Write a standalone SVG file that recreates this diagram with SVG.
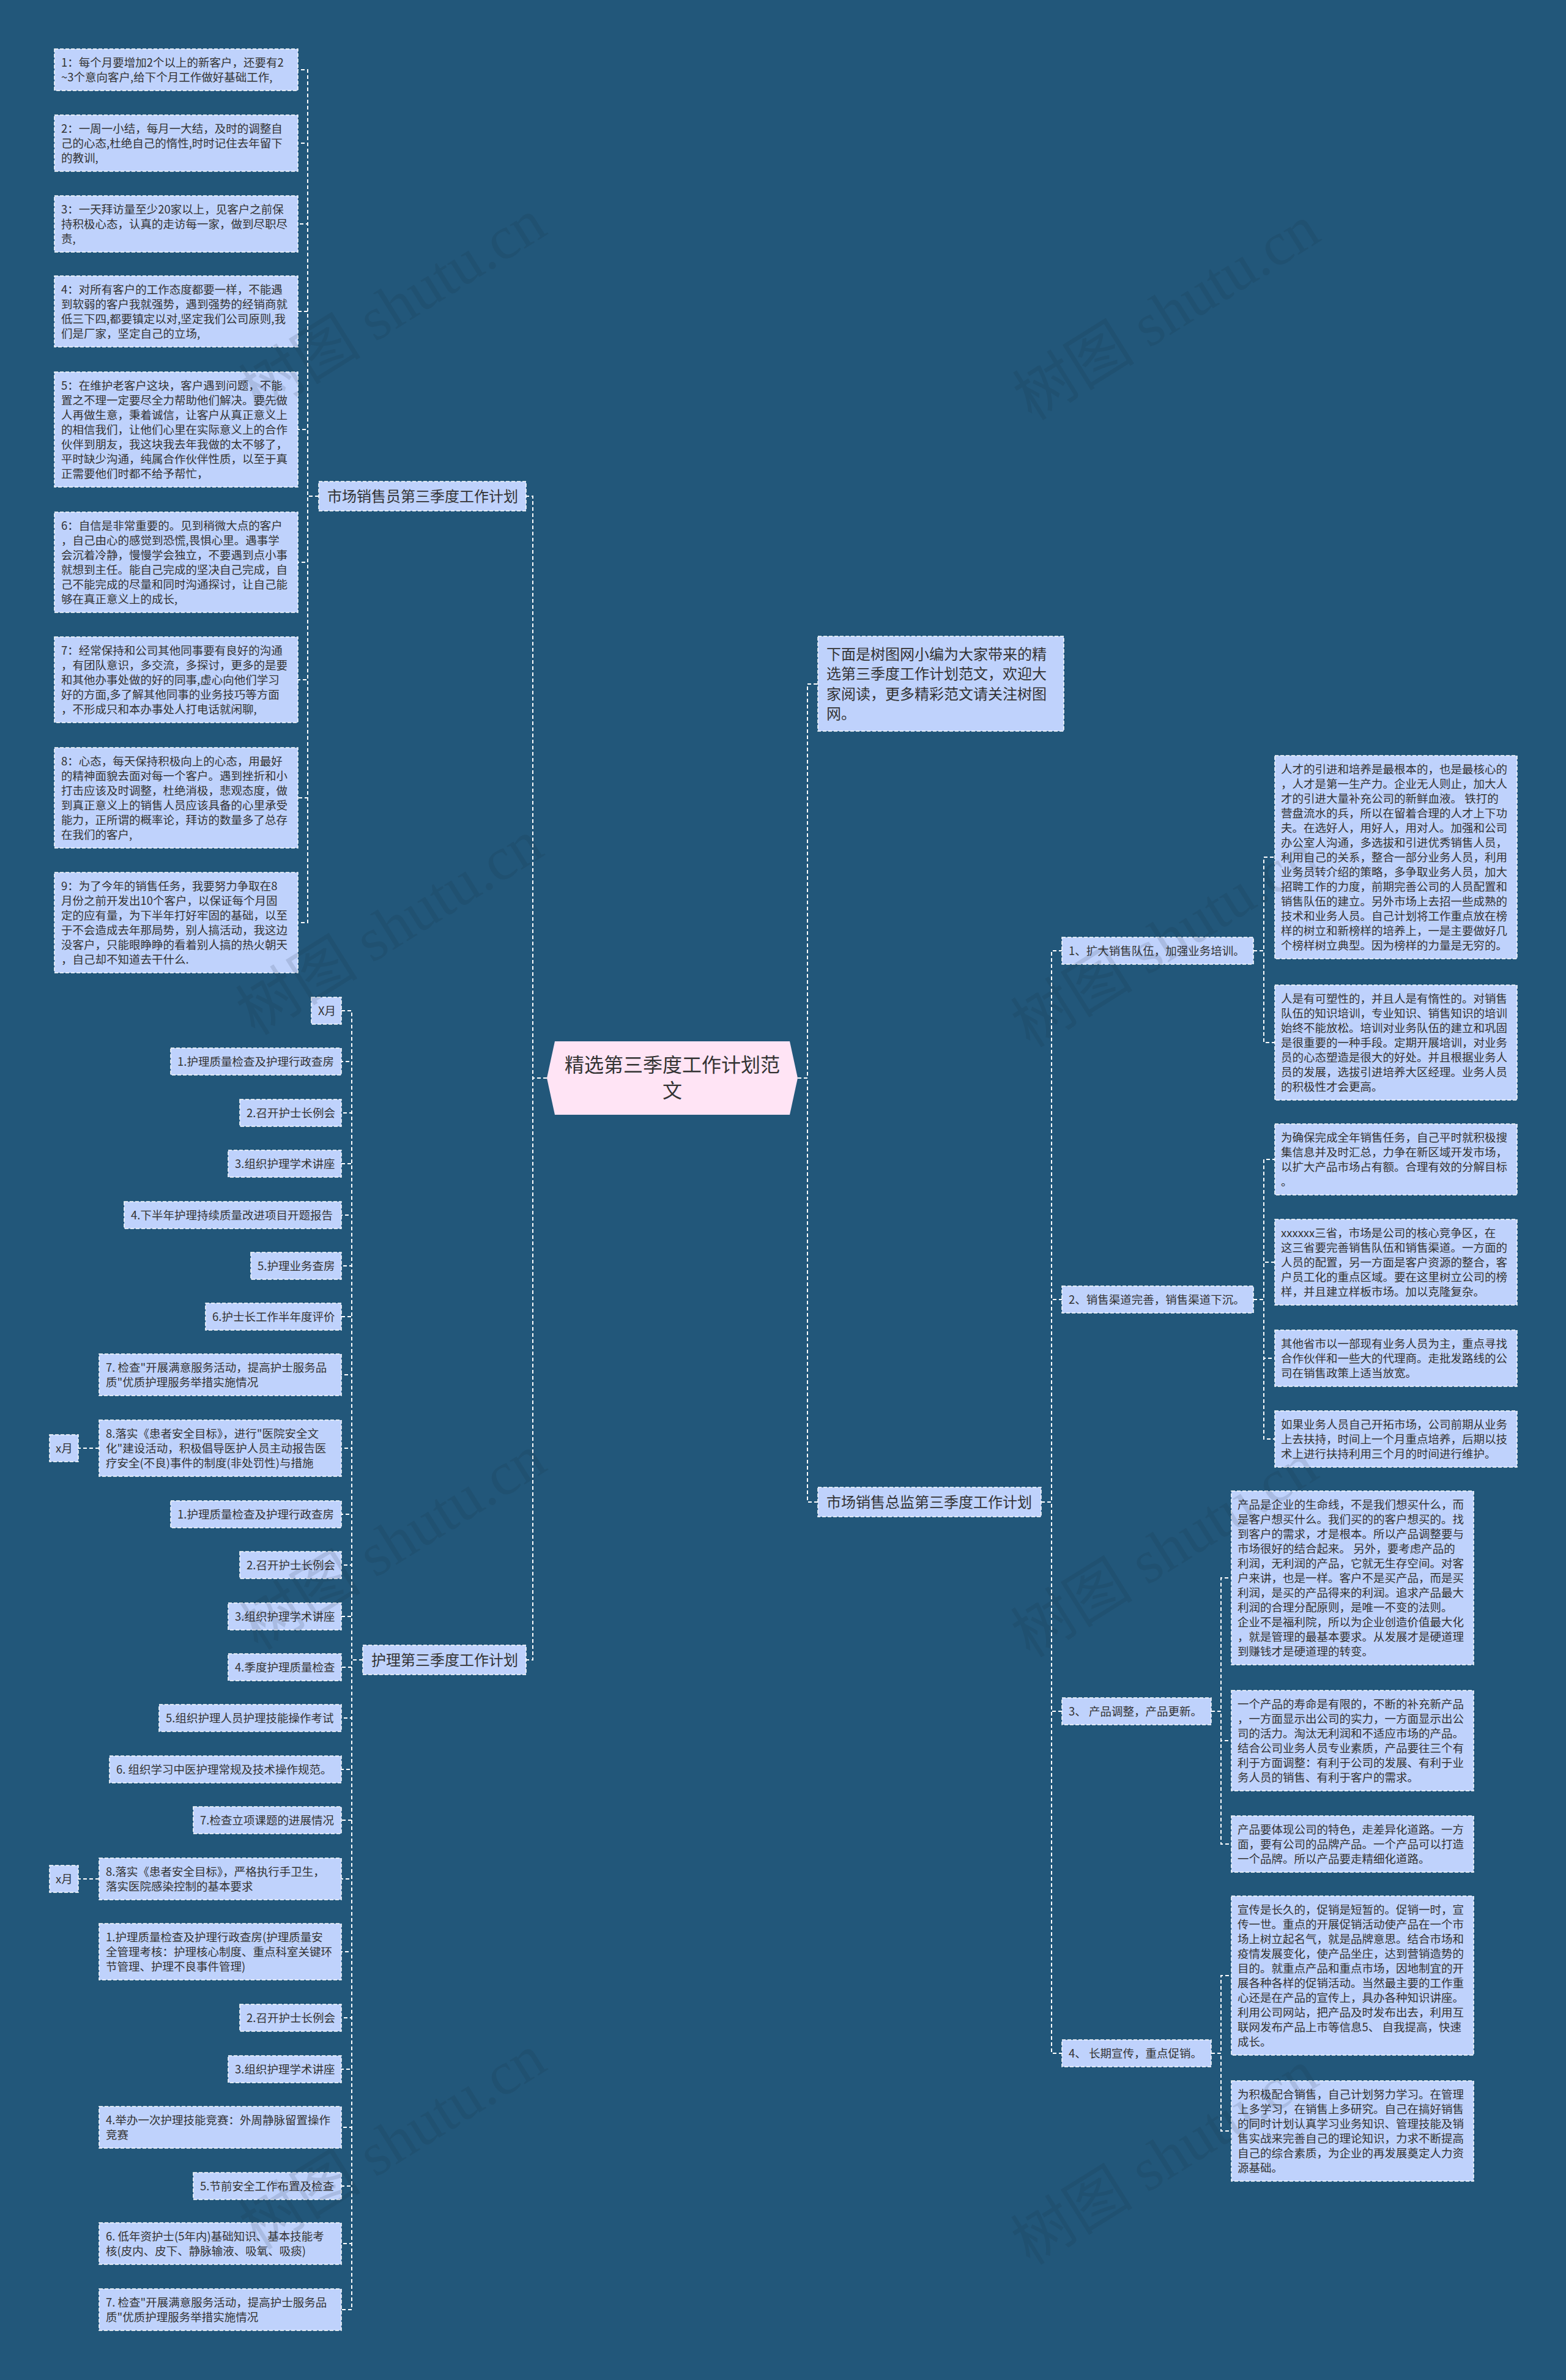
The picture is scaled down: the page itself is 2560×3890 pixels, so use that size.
<svg xmlns="http://www.w3.org/2000/svg" width="2560" height="3890" viewBox="0 0 2560 3890">
<style>
.t{font-family:"Noto Sans CJK SC","Noto Sans",sans-serif;font-size:18.5px;fill:#333}
.tb{font-family:"Noto Sans CJK SC","Noto Sans",sans-serif;font-size:24px;fill:#333}
.tr{font-family:"Noto Sans CJK SC","Noto Sans",sans-serif;font-size:32px;fill:#333}
.box{fill:#BFD2FC;stroke:#fff;stroke-width:1.5;stroke-dasharray:6 3}
.link{fill:none;stroke:#fff;stroke-width:2;stroke-dasharray:6 4}
.wm{font-family:"Liberation Serif","Noto Sans CJK SC",serif;font-size:100px;fill:#1a2a3a;opacity:0.13}
</style>
<rect width="2560" height="3890" fill="#22577A"/>
<g id="connectors">
<path class="link" d="M1304 1762H1320V1118H1337"/>
<path class="link" d="M1304 1762H1320V2455H1337"/>
<path class="link" d="M894 1762H871V811H860"/>
<path class="link" d="M894 1762H871V2713H860"/>
<path class="link" d="M521 811H503V114H487"/>
<path class="link" d="M521 811H503V234H487"/>
<path class="link" d="M521 811H503V366H487"/>
<path class="link" d="M521 811H503V509H487"/>
<path class="link" d="M521 811H503V702H487"/>
<path class="link" d="M521 811H503V919H487"/>
<path class="link" d="M521 811H503V1111H487"/>
<path class="link" d="M521 811H503V1304H487"/>
<path class="link" d="M521 811H503V1508H487"/>
<path class="link" d="M593 2713H575V1652H558"/>
<path class="link" d="M593 2713H575V1735H558"/>
<path class="link" d="M593 2713H575V1819H558"/>
<path class="link" d="M593 2713H575V1902H558"/>
<path class="link" d="M593 2713H575V1986H558"/>
<path class="link" d="M593 2713H575V2069H558"/>
<path class="link" d="M593 2713H575V2152H558"/>
<path class="link" d="M593 2713H575V2247H558"/>
<path class="link" d="M593 2713H575V2367H558"/>
<path class="link" d="M593 2713H575V2475H558"/>
<path class="link" d="M593 2713H575V2558H558"/>
<path class="link" d="M593 2713H575V2642H558"/>
<path class="link" d="M593 2713H575V2725H558"/>
<path class="link" d="M593 2713H575V2808H558"/>
<path class="link" d="M593 2713H575V2892H558"/>
<path class="link" d="M593 2713H575V2975H558"/>
<path class="link" d="M593 2713H575V3071H558"/>
<path class="link" d="M593 2713H575V3190H558"/>
<path class="link" d="M593 2713H575V3298H558"/>
<path class="link" d="M593 2713H575V3382H558"/>
<path class="link" d="M593 2713H575V3477H558"/>
<path class="link" d="M593 2713H575V3573H558"/>
<path class="link" d="M593 2713H575V3667H558"/>
<path class="link" d="M593 2713H575V3775H558"/>
<path class="link" d="M162 2367H128"/>
<path class="link" d="M162 3071H128"/>
<path class="link" d="M1702 2455H1719V1554H1736"/>
<path class="link" d="M1702 2455H1719V2124H1736"/>
<path class="link" d="M1702 2455H1719V2797H1736"/>
<path class="link" d="M1702 2455H1719V3356H1736"/>
<path class="link" d="M2049 1554H2066V1401H2084"/>
<path class="link" d="M2049 1554H2066V1704H2084"/>
<path class="link" d="M2049 2124H2066V1895H2084"/>
<path class="link" d="M2049 2124H2066V2063H2084"/>
<path class="link" d="M2049 2124H2066V2220H2084"/>
<path class="link" d="M2049 2124H2066V2352H2084"/>
<path class="link" d="M1980 2797H1996V2579H2013"/>
<path class="link" d="M1980 2797H1996V2845H2013"/>
<path class="link" d="M1980 2797H1996V3014H2013"/>
<path class="link" d="M1980 3356H1996V3229H2013"/>
<path class="link" d="M1980 3356H1996V3483H2013"/>
</g>
<g id="root">
<polygon points="894,1762 907,1702 1291,1702 1304,1762 1291,1822 907,1822" fill="#FFE4F5"/>
<text class="tr" x="1099" y="1752" text-anchor="middle"><tspan x="1099">精选第三季度工作计划范</tspan><tspan x="1099" dy="42">文</tspan></text>
</g>
<g id="intro">
<rect class="box" x="1337" y="1040" width="402" height="155"/>
<text class="tb" x="1351" y="1077.5"><tspan x="1351">下面是树图网小编为大家带来的精</tspan><tspan x="1351" dy="32.5">选第三季度工作计划范文，欢迎大</tspan><tspan x="1351" dy="32.5">家阅读，更多精彩范文请关注树图</tspan><tspan x="1351" dy="32.5">网。</tspan></text>
</g>
<g id="branch-sales">
<rect class="box" x="521" y="787" width="339" height="48"/>
<text class="tb" x="535" y="819.5">市场销售员第三季度工作计划</text>
</g>
<g id="branch-nursing">
<rect class="box" x="593" y="2689" width="267" height="48"/>
<text class="tb" x="607" y="2721.5">护理第三季度工作计划</text>
</g>
<g id="branch-director">
<rect class="box" x="1337" y="2431" width="365" height="48"/>
<text class="tb" x="1351" y="2463.5">市场销售总监第三季度工作计划</text>
</g>
<g id="s1"><rect class="box" x="89" y="80" width="398" height="68"/><text class="t" x="100" y="108.5"><tspan x="100">1：每个月要增加2个以上的新客户，还要有2</tspan><tspan x="100" dy="24">~3个意向客户,给下个月工作做好基础工作,</tspan></text></g>
<g id="s2"><rect class="box" x="89" y="188" width="398" height="92"/><text class="t" x="100" y="216.5"><tspan x="100">2：一周一小结，每月一大结，及时的调整自</tspan><tspan x="100" dy="24">己的心态,杜绝自己的惰性,时时记住去年留下</tspan><tspan x="100" dy="24">的教训,</tspan></text></g>
<g id="s3"><rect class="box" x="89" y="320" width="398" height="92"/><text class="t" x="100" y="348.5"><tspan x="100">3：一天拜访量至少20家以上，见客户之前保</tspan><tspan x="100" dy="24">持积极心态，认真的走访每一家，做到尽职尽</tspan><tspan x="100" dy="24">责,</tspan></text></g>
<g id="s4"><rect class="box" x="89" y="451" width="398" height="116"/><text class="t" x="100" y="479.5"><tspan x="100">4：对所有客户的工作态度都要一样，不能遇</tspan><tspan x="100" dy="24">到软弱的客户我就强势，遇到强势的经销商就</tspan><tspan x="100" dy="24">低三下四,都要镇定以对,坚定我们公司原则,我</tspan><tspan x="100" dy="24">们是厂家，坚定自己的立场,</tspan></text></g>
<g id="s5"><rect class="box" x="89" y="608" width="398" height="188"/><text class="t" x="100" y="636.5"><tspan x="100">5：在维护老客户这块，客户遇到问题，不能</tspan><tspan x="100" dy="24">置之不理一定要尽全力帮助他们解决。要先做</tspan><tspan x="100" dy="24">人再做生意，秉着诚信，让客户从真正意义上</tspan><tspan x="100" dy="24">的相信我们，让他们心里在实际意义上的合作</tspan><tspan x="100" dy="24">伙伴到朋友，我这块我去年我做的太不够了，</tspan><tspan x="100" dy="24">平时缺少沟通，纯属合作伙伴性质，以至于真</tspan><tspan x="100" dy="24">正需要他们时都不给予帮忙，</tspan></text></g>
<g id="s6"><rect class="box" x="89" y="837" width="398" height="164"/><text class="t" x="100" y="865.5"><tspan x="100">6：自信是非常重要的。见到稍微大点的客户</tspan><tspan x="100" dy="24">，自己由心的感觉到恐慌,畏惧心里。遇事学</tspan><tspan x="100" dy="24">会沉着冷静，慢慢学会独立，不要遇到点小事</tspan><tspan x="100" dy="24">就想到主任。能自己完成的坚决自己完成，自</tspan><tspan x="100" dy="24">己不能完成的尽量和同时沟通探讨，让自己能</tspan><tspan x="100" dy="24">够在真正意义上的成长,</tspan></text></g>
<g id="s7"><rect class="box" x="89" y="1041" width="398" height="140"/><text class="t" x="100" y="1069.5"><tspan x="100">7：经常保持和公司其他同事要有良好的沟通</tspan><tspan x="100" dy="24">，有团队意识，多交流，多探讨，更多的是要</tspan><tspan x="100" dy="24">和其他办事处做的好的同事,虚心向他们学习</tspan><tspan x="100" dy="24">好的方面,多了解其他同事的业务技巧等方面</tspan><tspan x="100" dy="24">，不形成只和本办事处人打电话就闲聊,</tspan></text></g>
<g id="s8"><rect class="box" x="89" y="1222" width="398" height="164"/><text class="t" x="100" y="1250.5"><tspan x="100">8：心态，每天保持积极向上的心态，用最好</tspan><tspan x="100" dy="24">的精神面貌去面对每一个客户。遇到挫折和小</tspan><tspan x="100" dy="24">打击应该及时调整，杜绝消极，悲观态度，做</tspan><tspan x="100" dy="24">到真正意义上的销售人员应该具备的心里承受</tspan><tspan x="100" dy="24">能力，正所谓的概率论，拜访的数量多了总存</tspan><tspan x="100" dy="24">在我们的客户,</tspan></text></g>
<g id="s9"><rect class="box" x="89" y="1426" width="398" height="164"/><text class="t" x="100" y="1454.5"><tspan x="100">9：为了今年的销售任务，我要努力争取在8</tspan><tspan x="100" dy="24">月份之前开发出10个客户，以保证每个月固</tspan><tspan x="100" dy="24">定的应有量，为下半年打好牢固的基础，以至</tspan><tspan x="100" dy="24">于不会造成去年那局势，别人搞活动，我这边</tspan><tspan x="100" dy="24">没客户，只能眼睁睁的看着别人搞的热火朝天</tspan><tspan x="100" dy="24">，自己却不知道去干什么.</tspan></text></g>
<g id="n0"><rect class="box" x="509" y="1630" width="49" height="44"/><text class="t" x="520" y="1658.5">X月</text></g>
<g id="n1"><rect class="box" x="279" y="1713" width="279" height="44"/><text class="t" x="290" y="1741.5">1.护理质量检查及护理行政查房</text></g>
<g id="n2"><rect class="box" x="392" y="1797" width="166" height="44"/><text class="t" x="403" y="1825.5">2.召开护士长例会</text></g>
<g id="n3"><rect class="box" x="373" y="1880" width="185" height="44"/><text class="t" x="384" y="1908.5">3.组织护理学术讲座</text></g>
<g id="n4"><rect class="box" x="203" y="1964" width="355" height="44"/><text class="t" x="214" y="1992.5">4.下半年护理持续质量改进项目开题报告</text></g>
<g id="n5"><rect class="box" x="410" y="2047" width="148" height="44"/><text class="t" x="421" y="2075.5">5.护理业务查房</text></g>
<g id="n6"><rect class="box" x="336" y="2130" width="222" height="44"/><text class="t" x="347" y="2158.5">6.护士长工作半年度评价</text></g>
<g id="n7"><rect class="box" x="162" y="2213" width="396" height="68"/><text class="t" x="173" y="2241.5"><tspan x="173">7. 检查"开展满意服务活动，提高护士服务品</tspan><tspan x="173" dy="24">质"优质护理服务举措实施情况</tspan></text></g>
<g id="n8"><rect class="box" x="162" y="2321" width="396" height="92"/><text class="t" x="173" y="2349.5"><tspan x="173">8.落实《患者安全目标》，进行"医院安全文</tspan><tspan x="173" dy="24">化"建设活动，积极倡导医护人员主动报告医</tspan><tspan x="173" dy="24">疗安全(不良)事件的制度(非处罚性)与措施</tspan></text></g>
<g id="n8x"><rect class="box" x="81" y="2345" width="47" height="44"/><text class="t" x="91" y="2373.5">x月</text></g>
<g id="m1"><rect class="box" x="279" y="2453" width="279" height="44"/><text class="t" x="290" y="2481.5">1.护理质量检查及护理行政查房</text></g>
<g id="m2"><rect class="box" x="392" y="2536" width="166" height="44"/><text class="t" x="403" y="2564.5">2.召开护士长例会</text></g>
<g id="m3"><rect class="box" x="373" y="2620" width="185" height="44"/><text class="t" x="384" y="2648.5">3.组织护理学术讲座</text></g>
<g id="m4"><rect class="box" x="373" y="2703" width="185" height="44"/><text class="t" x="384" y="2731.5">4.季度护理质量检查</text></g>
<g id="m5"><rect class="box" x="260" y="2786" width="298" height="44"/><text class="t" x="271" y="2814.5">5.组织护理人员护理技能操作考试</text></g>
<g id="m6"><rect class="box" x="179" y="2870" width="379" height="44"/><text class="t" x="190" y="2898.5">6. 组织学习中医护理常规及技术操作规范。</text></g>
<g id="m7"><rect class="box" x="316" y="2953" width="242" height="44"/><text class="t" x="327" y="2981.5">7.检查立项课题的进展情况</text></g>
<g id="m8"><rect class="box" x="162" y="3037" width="396" height="68"/><text class="t" x="173" y="3065.5"><tspan x="173">8.落实《患者安全目标》，严格执行手卫生，</tspan><tspan x="173" dy="24">落实医院感染控制的基本要求</tspan></text></g>
<g id="m8x"><rect class="box" x="81" y="3049" width="47" height="44"/><text class="t" x="91" y="3077.5">x月</text></g>
<g id="k1"><rect class="box" x="162" y="3144" width="396" height="92"/><text class="t" x="173" y="3172.5"><tspan x="173">1.护理质量检查及护理行政查房(护理质量安</tspan><tspan x="173" dy="24">全管理考核：护理核心制度、重点科室关键环</tspan><tspan x="173" dy="24">节管理、护理不良事件管理)</tspan></text></g>
<g id="k2"><rect class="box" x="392" y="3276" width="166" height="44"/><text class="t" x="403" y="3304.5">2.召开护士长例会</text></g>
<g id="k3"><rect class="box" x="373" y="3360" width="185" height="44"/><text class="t" x="384" y="3388.5">3.组织护理学术讲座</text></g>
<g id="k4"><rect class="box" x="162" y="3443" width="396" height="68"/><text class="t" x="173" y="3471.5"><tspan x="173">4.举办一次护理技能竞赛：外周静脉留置操作</tspan><tspan x="173" dy="24">竞赛</tspan></text></g>
<g id="k5"><rect class="box" x="316" y="3551" width="242" height="44"/><text class="t" x="327" y="3579.5">5.节前安全工作布置及检查</text></g>
<g id="k6"><rect class="box" x="162" y="3633" width="396" height="68"/><text class="t" x="173" y="3661.5"><tspan x="173">6. 低年资护士(5年内)基础知识、基本技能考</tspan><tspan x="173" dy="24">核(皮内、皮下、静脉输液、吸氧、吸痰)</tspan></text></g>
<g id="k7"><rect class="box" x="162" y="3741" width="396" height="68"/><text class="t" x="173" y="3769.5"><tspan x="173">7. 检查"开展满意服务活动，提高护士服务品</tspan><tspan x="173" dy="24">质"优质护理服务举措实施情况</tspan></text></g>
<g id="r1"><rect class="box" x="1736" y="1532" width="313" height="44"/><text class="t" x="1747" y="1560.5">1、扩大销售队伍，加强业务培训。</text></g>
<g id="r1a"><rect class="box" x="2084" y="1235" width="396" height="332"/><text class="t" x="2094" y="1263.5"><tspan x="2094">人才的引进和培养是最根本的，也是最核心的</tspan><tspan x="2094" dy="24">，人才是第一生产力。企业无人则止，加大人</tspan><tspan x="2094" dy="24">才的引进大量补充公司的新鲜血液。 铁打的</tspan><tspan x="2094" dy="24">营盘流水的兵，所以在留着合理的人才上下功</tspan><tspan x="2094" dy="24">夫。在选好人，用好人，用对人。加强和公司</tspan><tspan x="2094" dy="24">办公室人沟通，多选拔和引进优秀销售人员，</tspan><tspan x="2094" dy="24">利用自己的关系，整合一部分业务人员，利用</tspan><tspan x="2094" dy="24">业务员转介绍的策略，多争取业务人员，加大</tspan><tspan x="2094" dy="24">招聘工作的力度，前期完善公司的人员配置和</tspan><tspan x="2094" dy="24">销售队伍的建立。另外市场上去招一些成熟的</tspan><tspan x="2094" dy="24">技术和业务人员。自己计划将工作重点放在榜</tspan><tspan x="2094" dy="24">样的树立和新榜样的培养上，一是主要做好几</tspan><tspan x="2094" dy="24">个榜样树立典型。因为榜样的力量是无穷的。</tspan></text></g>
<g id="r1b"><rect class="box" x="2084" y="1610" width="396" height="188"/><text class="t" x="2094" y="1638.5"><tspan x="2094">人是有可塑性的，并且人是有惰性的。对销售</tspan><tspan x="2094" dy="24">队伍的知识培训，专业知识、销售知识的培训</tspan><tspan x="2094" dy="24">始终不能放松。培训对业务队伍的建立和巩固</tspan><tspan x="2094" dy="24">是很重要的一种手段。定期开展培训，对业务</tspan><tspan x="2094" dy="24">员的心态塑造是很大的好处。并且根据业务人</tspan><tspan x="2094" dy="24">员的发展，选拔引进培养大区经理。业务人员</tspan><tspan x="2094" dy="24">的积极性才会更高。</tspan></text></g>
<g id="r2"><rect class="box" x="1736" y="2102" width="313" height="44"/><text class="t" x="1747" y="2130.5">2、销售渠道完善，销售渠道下沉。</text></g>
<g id="r2a"><rect class="box" x="2084" y="1837" width="396" height="116"/><text class="t" x="2094" y="1865.5"><tspan x="2094">为确保完成全年销售任务，自己平时就积极搜</tspan><tspan x="2094" dy="24">集信息并及时汇总，力争在新区域开发市场，</tspan><tspan x="2094" dy="24">以扩大产品市场占有额。合理有效的分解目标</tspan><tspan x="2094" dy="24">。</tspan></text></g>
<g id="r2b"><rect class="box" x="2084" y="1993" width="396" height="140"/><text class="t" x="2094" y="2021.5"><tspan x="2094">xxxxxx三省，市场是公司的核心竞争区，在</tspan><tspan x="2094" dy="24">这三省要完善销售队伍和销售渠道。一方面的</tspan><tspan x="2094" dy="24">人员的配置，另一方面是客户资源的整合，客</tspan><tspan x="2094" dy="24">户员工化的重点区域。要在这里树立公司的榜</tspan><tspan x="2094" dy="24">样，并且建立样板市场。加以克隆复杂。</tspan></text></g>
<g id="r2c"><rect class="box" x="2084" y="2174" width="396" height="92"/><text class="t" x="2094" y="2202.5"><tspan x="2094">其他省市以一部现有业务人员为主，重点寻找</tspan><tspan x="2094" dy="24">合作伙伴和一些大的代理商。走批发路线的公</tspan><tspan x="2094" dy="24">司在销售政策上适当放宽。</tspan></text></g>
<g id="r2d"><rect class="box" x="2084" y="2306" width="396" height="92"/><text class="t" x="2094" y="2334.5"><tspan x="2094">如果业务人员自己开拓市场，公司前期从业务</tspan><tspan x="2094" dy="24">上去扶持，时间上一个月重点培养，后期以技</tspan><tspan x="2094" dy="24">术上进行扶持利用三个月的时间进行维护。</tspan></text></g>
<g id="r3"><rect class="box" x="1736" y="2775" width="244" height="44"/><text class="t" x="1747" y="2803.5">3、 产品调整，产品更新。</text></g>
<g id="r3a"><rect class="box" x="2013" y="2437" width="396" height="284"/><text class="t" x="2023" y="2465.5"><tspan x="2023">产品是企业的生命线，不是我们想买什么，而</tspan><tspan x="2023" dy="24">是客户想买什么。我们买的的客户想买的。找</tspan><tspan x="2023" dy="24">到客户的需求，才是根本。所以产品调整要与</tspan><tspan x="2023" dy="24">市场很好的结合起来。 另外，要考虑产品的</tspan><tspan x="2023" dy="24">利润，无利润的产品，它就无生存空间。对客</tspan><tspan x="2023" dy="24">户来讲，也是一样。客户不是买产品，而是买</tspan><tspan x="2023" dy="24">利润，是买的产品得来的利润。追求产品最大</tspan><tspan x="2023" dy="24">利润的合理分配原则，是唯一不变的法则。</tspan><tspan x="2023" dy="24">企业不是福利院，所以为企业创造价值最大化</tspan><tspan x="2023" dy="24">，就是管理的最基本要求。从发展才是硬道理</tspan><tspan x="2023" dy="24">到赚钱才是硬道理的转变。</tspan></text></g>
<g id="r3b"><rect class="box" x="2013" y="2763" width="396" height="164"/><text class="t" x="2023" y="2791.5"><tspan x="2023">一个产品的寿命是有限的，不断的补充新产品</tspan><tspan x="2023" dy="24">，一方面显示出公司的实力，一方面显示出公</tspan><tspan x="2023" dy="24">司的活力。淘汰无利润和不适应市场的产品。</tspan><tspan x="2023" dy="24">结合公司业务人员专业素质，产品要往三个有</tspan><tspan x="2023" dy="24">利于方面调整：有利于公司的发展、有利于业</tspan><tspan x="2023" dy="24">务人员的销售、有利于客户的需求。</tspan></text></g>
<g id="r3c"><rect class="box" x="2013" y="2968" width="396" height="92"/><text class="t" x="2023" y="2996.5"><tspan x="2023">产品要体现公司的特色，走差异化道路。一方</tspan><tspan x="2023" dy="24">面，要有公司的品牌产品。一个产品可以打造</tspan><tspan x="2023" dy="24">一个品牌。所以产品要走精细化道路。</tspan></text></g>
<g id="r4"><rect class="box" x="1736" y="3334" width="244" height="44"/><text class="t" x="1747" y="3362.5">4、 长期宣传，重点促销。</text></g>
<g id="r4a"><rect class="box" x="2013" y="3099" width="396" height="260"/><text class="t" x="2023" y="3127.5"><tspan x="2023">宣传是长久的，促销是短暂的。促销一时，宣</tspan><tspan x="2023" dy="24">传一世。重点的开展促销活动使产品在一个市</tspan><tspan x="2023" dy="24">场上树立起名气，就是品牌意思。结合市场和</tspan><tspan x="2023" dy="24">疫情发展变化，使产品坐庄，达到营销造势的</tspan><tspan x="2023" dy="24">目的。就重点产品和重点市场，因地制宜的开</tspan><tspan x="2023" dy="24">展各种各样的促销活动。当然最主要的工作重</tspan><tspan x="2023" dy="24">心还是在产品的宣传上，具办各种知识讲座。</tspan><tspan x="2023" dy="24">利用公司网站，把产品及时发布出去，利用互</tspan><tspan x="2023" dy="24">联网发布产品上市等信息5、 自我提高，快速</tspan><tspan x="2023" dy="24">成长。</tspan></text></g>
<g id="r4b"><rect class="box" x="2013" y="3401" width="396" height="164"/><text class="t" x="2023" y="3429.5"><tspan x="2023">为积极配合销售，自己计划努力学习。在管理</tspan><tspan x="2023" dy="24">上多学习，在销售上多研究。自己在搞好销售</tspan><tspan x="2023" dy="24">的同时计划认真学习业务知识、管理技能及销</tspan><tspan x="2023" dy="24">售实战来完善自己的理论知识，力求不断提高</tspan><tspan x="2023" dy="24">自己的综合素质，为企业的再发展奠定人力资</tspan><tspan x="2023" dy="24">源基础。</tspan></text></g>
<g id="watermarks">
<text class="wm" text-anchor="middle" transform="translate(660,530) rotate(-32)">树图 shutu.cn</text>
<text class="wm" text-anchor="middle" transform="translate(1925,540) rotate(-32)">树图 shutu.cn</text>
<text class="wm" text-anchor="middle" transform="translate(655,1545) rotate(-32)">树图 shutu.cn</text>
<text class="wm" text-anchor="middle" transform="translate(1922,1565) rotate(-32)">树图 shutu.cn</text>
<text class="wm" text-anchor="middle" transform="translate(660,2550) rotate(-32)">树图 shutu.cn</text>
<text class="wm" text-anchor="middle" transform="translate(1922,2562) rotate(-32)">树图 shutu.cn</text>
<text class="wm" text-anchor="middle" transform="translate(660,3530) rotate(-32)">树图 shutu.cn</text>
<text class="wm" text-anchor="middle" transform="translate(1922,3555) rotate(-32)">树图 shutu.cn</text>
</g>
</svg>
